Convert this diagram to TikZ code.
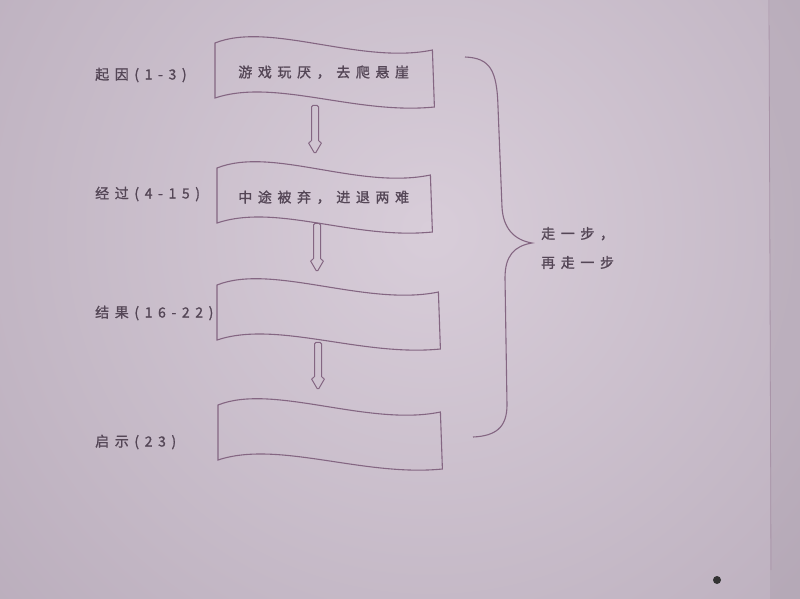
\documentclass[tikz,border=0pt]{standalone}
\usepackage{fontspec}
\usetikzlibrary{calc}
\newfontfamily\cjk[LetterSpace=40,FakeBold=1.2]{Noto Sans CJK SC}
\definecolor{paperlight}{RGB}{216,205,217}
\definecolor{paperdark}{RGB}{160,146,163}
\definecolor{linec}{RGB}{132,102,130}
\definecolor{textc}{RGB}{84,70,86}
\newcommand\wavebox[1]{%
  \draw[waveline] (#1.north west)
    .. controls ($(#1.north west)+(55,-22)$) and ($(#1.north east)+(-72,22)$) .. ($(#1.north east)+(0,7)$)
    -- ($(#1.north east)+(2,64)$)
    .. controls ($(#1.north east)+(-77,72)$) and ($(#1.north west)+(60,35)$) .. ($(#1.north west)+(0,55)$)
    -- cycle;}
\begin{document}
\begin{tikzpicture}[x=1pt,y=-1pt,
  waveline/.style={draw=linec, line width=1.1pt},
  boxn/.style={anchor=north west, minimum height=58pt, inner sep=0pt, text=textc,
    font={\cjk\fontsize{14}{17}\selectfont}},
  lab/.style={anchor=west, inner sep=0pt, text=textc, font={\cjk\fontsize{14}{29}\selectfont}},
  hollow/.style={draw=linec, line width=1pt, rounded corners=1.5pt,
    to path={let \p1=(\tikztostart), \p2=(\tikztotarget) in
      (\x1-3.5pt,\y1) -- (\x1-3.5pt,\y2+12pt) -- (\x1-7pt,\y2+12pt) -- (\x2,\y2)
      -- (\x1+7pt,\y2+12pt) -- (\x1+3.5pt,\y2+12pt) -- (\x1+3.5pt,\y1) -- cycle}},
  bracec/.style={draw=linec, line width=1.1pt}
]
\useasboundingbox (0,0) rectangle (800,599);
\begin{scope}
  \clip (0,0) rectangle (800,599);
  \shade[inner color=paperlight, outer color=paperdark] (430,230) circle (1100);
  \fill[paperdark!85!black, opacity=0.15] (770,0) rectangle (800,599);
\end{scope}
\draw[linec!70, line width=0.8pt] (769,0) -- (771,570);
\fill[black!80] (717,580) circle (4);

% boxes
\node[boxn, minimum width=217pt] (b1) at (215,43) {游戏玩厌，去爬悬崖};
\node[boxn, minimum width=213pt] (b2) at (217,168) {中途被弃，进退两难};
\node[boxn, minimum width=221pt] (b3) at (217,285) {};
\node[boxn, minimum width=222pt] (b4) at (218,405) {};
\wavebox{b1}\wavebox{b2}\wavebox{b3}\wavebox{b4}

% arrows
\coordinate (a1s) at ($(b1.south west)+(100,4)$);
\coordinate (a1e) at ($(b2.north west)+(98,-14)$);
\coordinate (a2s) at ($(b2.south west)+(100,-3)$);
\coordinate (a2e) at ($(b3.north west)+(100,-13)$);
\coordinate (a3s) at ($(b3.south west)+(101,-1)$);
\coordinate (a3e) at ($(b4.north west)+(100,-15)$);
\draw[hollow] (a1s) to (a1e);
\draw[hollow] (a2s) to (a2e);
\draw[hollow] (a3s) to (a3e);

% labels
\node[lab] (l1) at (95,75) {起因(1-3)};
\node[lab] (l2) at (95,194) {经过(4-15)};
\node[lab] (l3) at (95,313) {结果(16-22)};
\node[lab] (l4) at (95,442) {启示(23)};

% brace
\draw[bracec] (465,57) .. controls (490,58) and (497,70) .. (498,107)
  -- (502,207) .. controls (503,228) and (514,240) .. (532,243)
  .. controls (514,246) and (505,256) .. (505,278)
  -- (507,405) .. controls (507,428) and (495,436) .. (473,437);
\node[lab, align=left] (bt) at (541,248) {走一步，\\再走一步};
\end{tikzpicture}
\end{document}
